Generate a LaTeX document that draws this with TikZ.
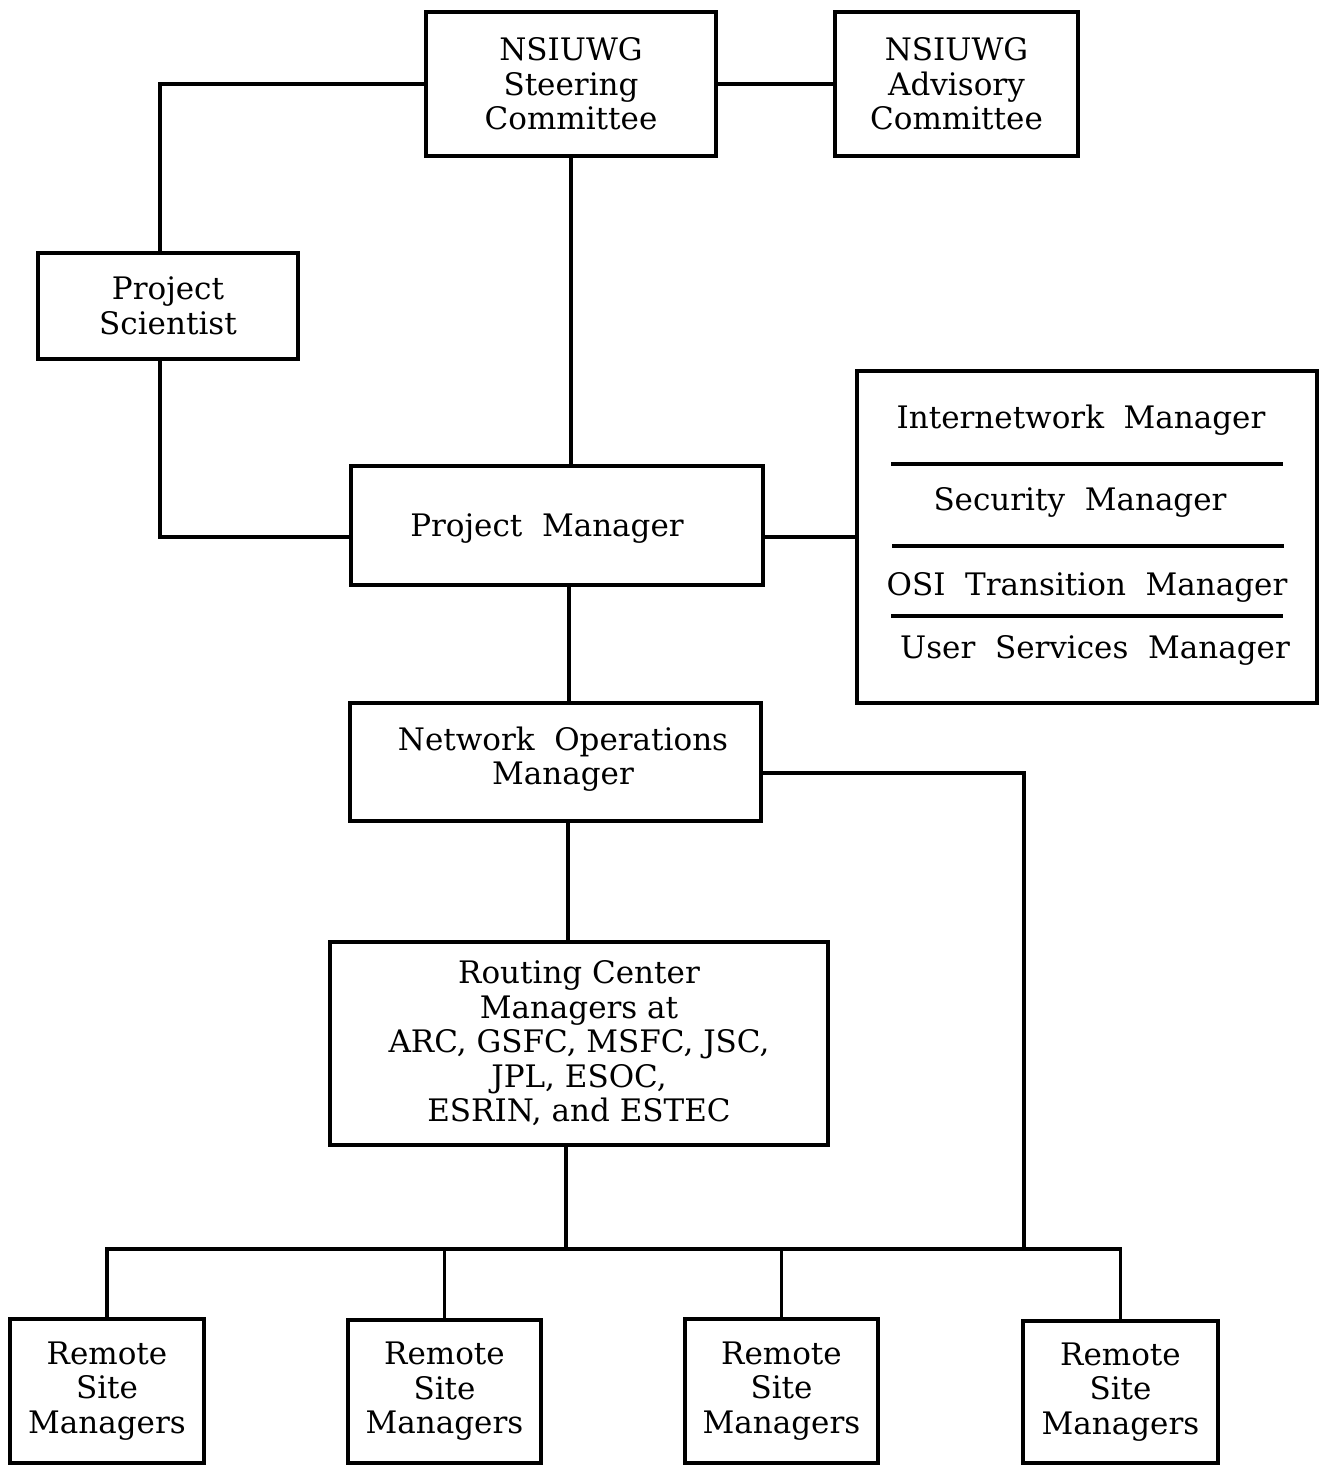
\documentclass[tikz,border=0pt]{standalone}
\usepackage{fontspec}
\setmainfont{DejaVu Serif}
\begin{document}
\begin{tikzpicture}[x=1pt,y=-1pt,
  box/.style={draw,line width=3.3pt,rectangle,inner sep=0pt,align=center,
    font=\fontsize{31}{34.5}\selectfont},
  lbl/.style={inner sep=0pt,font=\fontsize{31}{34.5}\selectfont},
  conn/.style={line width=3.3pt}]
\useasboundingbox (0,0) rectangle (1319,1469);
% boxes
\node[box,minimum width=290pt,minimum height=144pt] (steer) at (571,84) {NSIUWG\\Steering\\Committee};
\node[box,minimum width=243pt,minimum height=144pt] (adv) at (956.5,84) {NSIUWG\\Advisory\\Committee};
\node[box,minimum width=260pt,minimum height=106pt] (ps) at (168,306) {Project\\Scientist};
\node[box,minimum width=412pt,minimum height=119pt] (pm) at (557,525.5) {};
\node[lbl] (pmt) at (547,529) {Project\ \ Manager};
\node[box,minimum width=460pt,minimum height=332pt] (rb) at (1087,537) {};
\node[lbl] (im) at (1081,420) {Internetwork\ \ Manager};
\node[lbl] (sm) at (1080,502) {Security\ \ Manager};
\node[lbl] (om) at (1087,587) {OSI\ \ Transition\ \ Manager};
\node[lbl] (um) at (1095,650) {User\ \ Services\ \ Manager};
\coordinate (r1a) at (891,464); \coordinate (r1b) at (1283,464);
\coordinate (r2a) at (892,546); \coordinate (r2b) at (1284,546);
\coordinate (r3a) at (891,616); \coordinate (r3b) at (1283,616);
\draw[conn] (r1a) -- (r1b);
\draw[conn] (r2a) -- (r2b);
\draw[conn] (r3a) -- (r3b);
\node[box,minimum width=411pt,minimum height=118pt] (nom) at (555.5,762) {};
\node[lbl,align=center] (nomt) at (563,759) {Network\ \ Operations\\Manager};
\node[box,minimum width=498pt,minimum height=203pt] (rc) at (579,1043.5) {Routing Center\\Managers at\\ARC, GSFC, MSFC, JSC,\\JPL, ESOC,\\ESRIN, and ESTEC};
\node[box,minimum width=194pt,minimum height=144pt] (rs1) at (107,1391) {Remote\\Site\\Managers};
\node[box,minimum width=193pt,minimum height=143pt] (rs2) at (444.5,1391.5) {Remote\\Site\\Managers};
\node[box,minimum width=193pt,minimum height=144pt] (rs3) at (781.5,1391) {Remote\\Site\\Managers};
\node[box,minimum width=195pt,minimum height=142pt] (rs4) at (1120.5,1392) {Remote\\Site\\Managers};
% connectors
\coordinate (bus) at (0,1249);
\coordinate (drop) at (1024,1249);
\draw[conn] (steer.west) -| ([xshift=-8pt]ps.north);
\draw[conn] (steer.east) -- (adv.west);
\draw[conn] (steer.south) -- (steer.south |- pm.north);
\draw[conn] ([xshift=-8pt]ps.south) |- ([yshift=-11.5pt]pm.west);
\draw[conn] ([yshift=-11.5pt]pm.east) -- (rb.west);
\draw[conn] ([xshift=12pt]pm.south) coordinate (a) -- (a |- nom.north);
\draw[conn] ([xshift=12.5pt]nom.south) coordinate (b) -- (b |- rc.north);
\draw[conn] ([yshift=-11pt]nom.east) -| (drop);
\draw[conn] ([xshift=-13pt]rc.south) coordinate (c) -- (c |- bus);
\draw[conn] (rs1.north) -- (rs1.north |- bus) -- (rs4.north |- bus) -- (rs4.north);
\draw[conn] (rs2.north) -- (rs2.north |- bus);
\draw[conn] (rs3.north) -- (rs3.north |- bus);
\end{tikzpicture}
\end{document}
